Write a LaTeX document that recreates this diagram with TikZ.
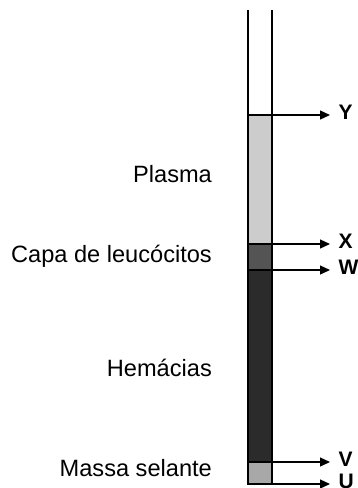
\documentclass[tikz,border=0pt]{standalone}
\usepackage{fontspec}
\setmainfont{Liberation Sans}
\usetikzlibrary{arrows.meta}
\definecolor{plasmacolor}{gray}{0.80}
\definecolor{buffycolor}{gray}{0.33}
\definecolor{redcellcolor}{gray}{0.17}
\definecolor{sealcolor}{gray}{0.66}

\begin{document}
\begin{tikzpicture}[x=1pt, y=-1pt, line width=1.3pt,
    >={Triangle[length=10pt,width=9pt]},
    layername/.style={anchor=east, inner sep=0pt, font=\fontsize{23.6}{28}\selectfont},
    marker/.style={anchor=west, inner sep=0pt, xshift=8pt, yshift=3pt,
                   font=\fontsize{21}{25}\selectfont\bfseries}]

% ------------------------------------------------------------------
% === EDITABLE PARAMETERS ==========================================
\def\tubeL{248}     % left wall of the tube
\def\tubeR{272}     % right wall of the tube
\def\tubeTop{10}    % open top of the tube
\def\tubeBot{484}   % bottom of the tube

\def\yY{115}        % top of plasma
\def\yX{244}        % plasma / buffy coat
\def\yW{270}        % buffy coat / red cells
\def\yV{462}        % red cells / sealant
\def\xTip{330}      % where the arrows stop
% ==================================================================

\useasboundingbox (0,0) rectangle (358,488);

% --- layers inside the tube ---------------------------------------
\fill[plasmacolor]  (\tubeL,\yY) rectangle (\tubeR,\yX);
\fill[buffycolor]   (\tubeL,\yX) rectangle (\tubeR,\yW);
\fill[redcellcolor] (\tubeL,\yW) rectangle (\tubeR,\yV);
\fill[sealcolor]    (\tubeL,\yV) rectangle (\tubeR,\tubeBot);

% --- tube walls ---------------------------------------------------
\draw (\tubeL,\tubeTop) -- (\tubeL,\tubeBot) -- (\tubeR,\tubeBot) -- (\tubeR,\tubeTop);

% --- arrow ends and markers on the right --------------------------
\coordinate (yTip) at (\xTip,\yY);
\coordinate (xTip) at (\xTip,\yX);
\coordinate (wTip) at (\xTip,\yW);
\coordinate (vTip) at (\xTip,\yV);
\coordinate (uTip) at (\xTip,\tubeBot);

\node[marker] (Y) at (yTip) {Y};
\node[marker] (X) at (xTip) {X};
\node[marker] (W) at (wTip) {W};
\node[marker] (V) at (vTip) {V};
\node[marker] (U) at (uTip) {U};

\coordinate (yStart) at (\tubeL,\yY);
\coordinate (xStart) at (\tubeL,\yX);
\coordinate (wStart) at (\tubeL,\yW);
\coordinate (vStart) at (\tubeL,\yV);
\coordinate (uStart) at (\tubeL,\tubeBot);

\draw[->] (yStart) -- (yTip);
\draw[->] (xStart) -- (xTip);
\draw[->] (wStart) -- (wTip);
\draw[->] (vStart) -- (vTip);
\draw[->] (uStart) -- (uTip);

% --- layer names on the left --------------------------------------
\node[layername] (plasma)  at (212.5,174) {Plasma};
\node[layername] (buffy)   at (212.5,256) {Capa de leucócitos};
\node[layername] (redcell) at (212.5,368) {Hemácias};
\node[layername] (seal)    at (212.5,468) {Massa selante};

\end{tikzpicture}
\end{document}
